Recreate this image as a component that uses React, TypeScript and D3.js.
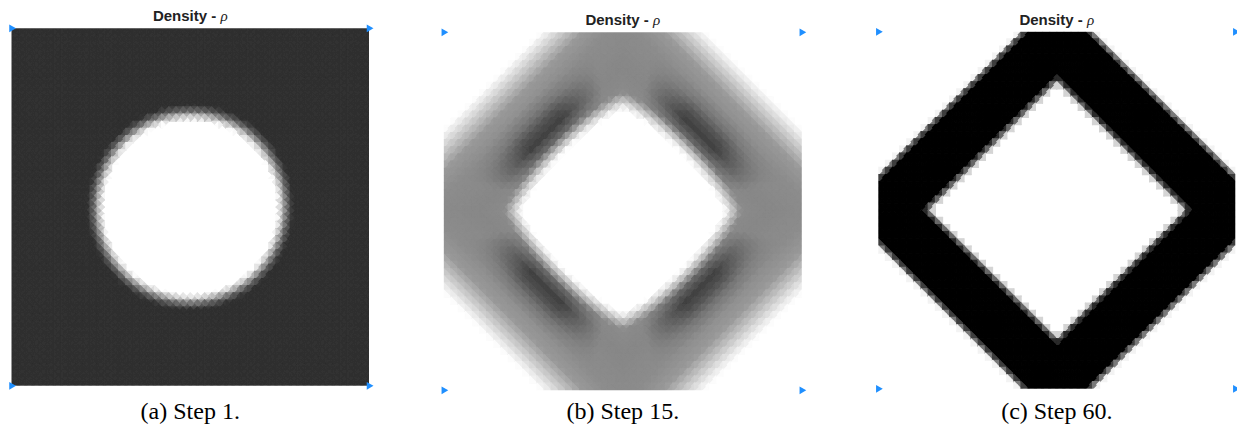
import React, { useMemo } from "react";
import * as d3 from "d3";

// Finite-element mesh: square elements per side, each split into 4 triangles
const MESH = 50;

// Step captions
const panelLetters = ["a", "b", "c"];
const panelSteps = [1, 15, 60];

// Step 1 — uniform initial density with a circular void (radius in elements)
const step1HoleCentre = [25, 25.1];
const step1RadialDist = [0, 12.2, 12.9, 13.6, 14.4, 80];
const step1RadialRho = [0, 0, 0.3, 0.62, 0.812, 0.812];

// Step 15 — grey diamond ring
// void edge, measured with a rounded-diamond (p-norm) distance
const step15HoleNorm = 1.25;
const step15HoleDist = [0, 14.2, 15.2, 16.6, 80];
const step15HoleRamp = [0, 0, 0.45, 1, 1];
// body of the ring vs. L1 distance from centre
const step15BaseDist = [0, 16, 20, 27, 30.5, 33, 36.5, 80];
const step15BaseRho = [0.45, 0.45, 0.47, 0.45, 0.4, 0.24, 0, 0];
// darker band alongside the mid-span of the inner edges
const step15BandDist = [0, 15.5, 17, 18.7, 20.3, 22.5, 24.5, 80];
const step15BandRho = [0, 0, 0.14, 0.28, 0.22, 0.07, 0, 0];

// Step 60 — solid diamond ring, profile vs. L1 distance from centre
const step60RingDist = [0, 17.4, 18.2, 18.9, 29.0, 29.7, 30.4, 80];
const step60RingRho = [0, 0, 0.5, 1, 1, 0.5, 0, 0];

type Box = { x: number; y: number; size: number; titleY: number };

// Layout of the three axes boxes
const layout: Box[] = [
  { x: 11.5, y: 28.3, size: 357.5, titleY: 20.5 },
  { x: 443.8, y: 32.3, size: 358, titleY: 25 },
  { x: 878.3, y: 31.8, size: 357, titleY: 25 },
];

const profile = (dist: number[], rho: number[]) =>
  d3.scaleLinear().domain(dist).range(rho).clamp(true);

const step1Prof = profile(step1RadialDist, step1RadialRho);
const step15Hole = profile(step15HoleDist, step15HoleRamp);
const step15Base = profile(step15BaseDist, step15BaseRho);
const step15Band = profile(step15BandDist, step15BandRho);
const step60Prof = profile(step60RingDist, step60RingRho);

const fields: ((x: number, y: number) => number)[] = [
  (x, y) => step1Prof(Math.hypot(x - step1HoleCentre[0], y - step1HoleCentre[1])),
  (x, y) => {
    const dx = Math.abs(x - 25);
    const dy = Math.abs(y - 25);
    const d = dx + dy;
    const p = step15HoleNorm;
    const dp = Math.pow(Math.pow(dx, p) + Math.pow(dy, p), 1 / p);
    const w = d > 0 ? 1 - Math.abs(dx - dy) / d : 0;
    const g = Math.max(0, Math.min(1, (w - 0.3) / 0.5));
    return Math.min(1, step15Hole(dp) * (step15Base(d) + step15Band(dp) * g));
  },
  (x, y) => step60Prof(Math.abs(x - 25) + Math.abs(y - 25)),
];

const grey = d3.scaleLinear<string>().domain([0, 1]).range(["#ffffff", "#000000"]);

// triangle corner offsets + centroid inside a unit element
const TRIS: { pts: [number, number][]; c: [number, number] }[] = [
  { pts: [[0, 0], [1, 0], [0.5, 0.5]], c: [0.5, 1 / 6] },
  { pts: [[1, 0], [1, 1], [0.5, 0.5]], c: [5 / 6, 0.5] },
  { pts: [[1, 1], [0, 1], [0.5, 0.5]], c: [0.5, 5 / 6] },
  { pts: [[0, 1], [0, 0], [0.5, 0.5]], c: [1 / 6, 0.5] },
];

function DensityPanel({ idx }: { idx: number }) {
  const box = layout[idx];
  const field = fields[idx];
  const xs = d3.scaleLinear().domain([0, MESH]).range([box.x, box.x + box.size]);
  const ys = d3.scaleLinear().domain([0, MESH]).range([box.y, box.y + box.size]);

  const tris = useMemo(() => {
    const out: { d: string; fill: string }[] = [];
    for (let j = 0; j < MESH; j++) {
      for (let i = 0; i < MESH; i++) {
        for (const t of TRIS) {
          const rho = field(i + t.c[0], j + t.c[1]);
          if (rho < 0.004) continue;
          const p = t.pts.map(([u, v]) => `${xs(i + u).toFixed(2)},${ys(j + v).toFixed(2)}`);
          out.push({ d: `M${p[0]}L${p[1]}L${p[2]}Z`, fill: grey(rho) });
        }
      }
    }
    return out;
  }, [idx]);

  const marker = d3.symbol(d3.symbolTriangle, 26)() as string;
  const corners: [number, number][] = [
    [box.x, box.y],
    [box.x + box.size, box.y],
    [box.x, box.y + box.size],
    [box.x + box.size, box.y + box.size],
  ];
  const cx = box.x + box.size / 2;

  return (
    <g>
      <clipPath id={`clip-${idx}`}>
        <rect x={box.x} y={box.y} width={box.size} height={box.size} />
      </clipPath>
      <g clipPath={`url(#clip-${idx})`}>
        <g filter="url(#soft)">
          {tris.map((t, k) => (
            <path key={k} d={t.d} fill={t.fill} stroke={t.fill} strokeWidth={1.2} strokeLinejoin="round" />
          ))}
        </g>
      </g>
      {corners.map(([mx, my], k) => (
        <path key={k} d={marker} transform={`translate(${mx},${my}) rotate(90)`} fill="#1f8fff" />
      ))}
      <text
        x={cx}
        y={box.titleY}
        textAnchor="middle"
        fontFamily="'Liberation Sans', Arial, sans-serif"
        fontSize={15}
        fontWeight="bold"
        fill="#222"
      >
        Density -{" "}
        <tspan fontFamily="'Liberation Serif', serif" fontStyle="italic" fontWeight="normal">
          ρ
        </tspan>
      </text>
      <text
        x={cx}
        y={419}
        textAnchor="middle"
        fontFamily="'Liberation Serif', 'Times New Roman', serif"
        fontSize={24}
        fill="#000"
      >
        ({panelLetters[idx]}) Step {panelSteps[idx]}.
      </text>
    </g>
  );
}

export default function App() {
  return (
    <svg
      width={1237}
      height={441}
      style={{ position: "absolute", left: 0, top: 0, display: "block", background: "#fff" }}
    >
      <defs>
        <filter id="soft" x="-2%" y="-2%" width="104%" height="104%">
          <feGaussianBlur stdDeviation={0.7} />
        </filter>
      </defs>
      {panelSteps.map((_, i) => (
        <DensityPanel key={i} idx={i} />
      ))}
    </svg>
  );
}
